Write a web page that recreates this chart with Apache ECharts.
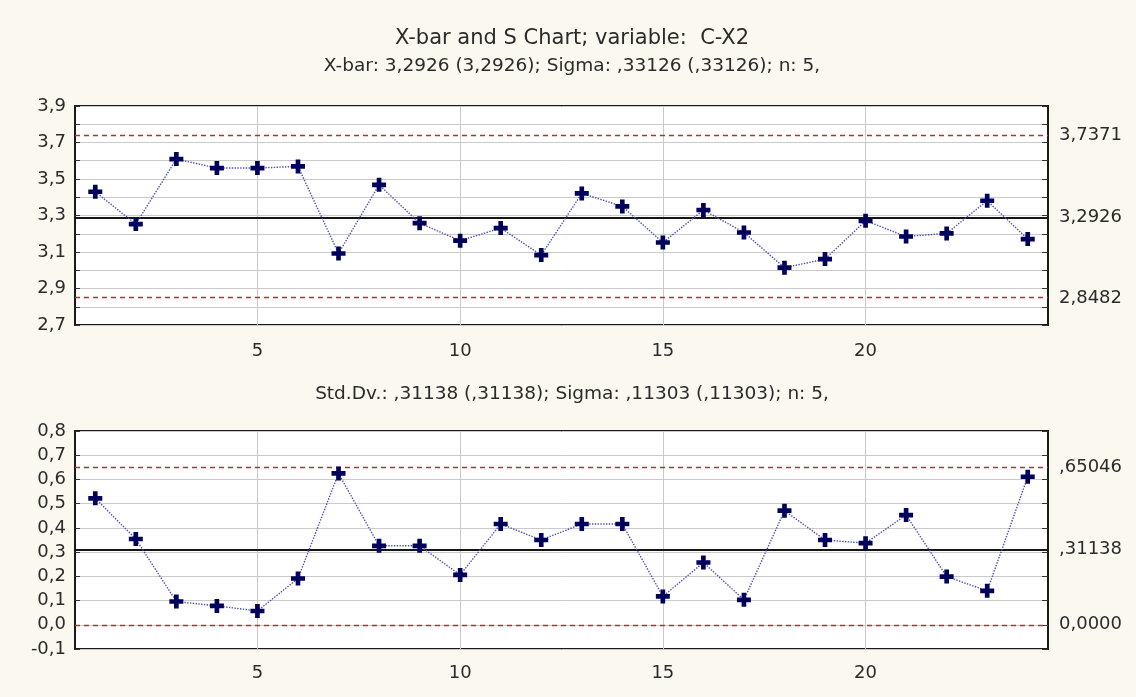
<!DOCTYPE html>
<html>
<head>
<meta charset="utf-8">
<title>X-bar and S Chart</title>
<script src="https://cdn.jsdelivr.net/npm/echarts@6/dist/echarts.min.js"></script>
<style>
  html, body { margin: 0; padding: 0; background: #fbf8ef; }
  #chart { width: 1136px; height: 697px; }
</style>
</head>
<body>
<div id="chart"></div>
<script>
// Sample numbers (subgroups of n = 5)
const sampleNo = [1, 2, 3, 4, 5, 6, 7, 8, 9, 10, 11, 12, 13, 14, 15, 16, 17, 18, 19, 20, 21, 22, 23, 24];

// Subgroup means
const xbarValues = [3.430, 3.253, 3.609, 3.560, 3.560, 3.569, 3.092, 3.468, 3.258, 3.162, 3.231, 3.083,
                    3.421, 3.350, 3.152, 3.330, 3.207, 3.014, 3.061, 3.271, 3.185, 3.202, 3.381, 3.171];

// Subgroup standard deviations
const sdValues = [0.522, 0.354, 0.096, 0.078, 0.057, 0.191, 0.625, 0.326, 0.326, 0.206, 0.416, 0.350,
                  0.416, 0.416, 0.117, 0.257, 0.103, 0.471, 0.350, 0.337, 0.453, 0.199, 0.140, 0.611];

// Control limits: [LCL, CL, UCL] and their printed labels
const xbarLimits = [2.8482, 3.2926, 3.7371];
const xbarLimitLabels = ['2,8482', '3,2926', '3,7371'];
const sdLimits = [0.0, 0.31138, 0.65046];
const sdLimitLabels = ['0,0000', ',31138', ',65046'];

// Axis tick labels
const xTickValues = [5, 10, 15, 20];
const xbarTickValues = [2.7, 2.9, 3.1, 3.3, 3.5, 3.7, 3.9];
const xbarTickLabels = ['2,7', '2,9', '3,1', '3,3', '3,5', '3,7', '3,9'];
const sdTickValues = [-0.1, 0.0, 0.1, 0.2, 0.3, 0.4, 0.5, 0.6, 0.7, 0.8];
const sdTickLabels = ['-0,1', '0,0', '0,1', '0,2', '0,3', '0,4', '0,5', '0,6', '0,7', '0,8'];

// Titles
const mainTitle = 'X-bar and S Chart; variable:  C-X2';
const xbarSubtitle = 'X-bar: 3,2926 (3,2926); Sigma: ,33126 (,33126); n: 5,';
const sdSubtitle = 'Std.Dv.: ,31138 (,31138); Sigma: ,11303 (,11303); n: 5,';

const FONT = 'DejaVu Sans';
const TEXT = '#2b2b2b';
const plusSymbol = 'path://M4,0H8V4H12V8H8V12H4V8H0V4H4Z';

function labelFor(values, labels) {
  return function (v) {
    for (let i = 0; i < values.length; i++) {
      if (Math.abs(values[i] - v) < 1e-6) return labels[i];
    }
    return '';
  };
}

function limitLines(limits) {
  const dash = { color: '#b03232', width: 1.3, type: [5, 4] };
  return {
    silent: true,
    symbol: 'none',
    label: { show: false },
    data: [
      { yAxis: limits[0], lineStyle: dash },
      { yAxis: limits[1], lineStyle: { color: '#151515', width: 2, type: 'solid' } },
      { yAxis: limits[2], lineStyle: dash }
    ]
  };
}

const grids = [
  { left: 75, right: 88, top: 106, height: 219 },
  { left: 75, right: 88, top: 431, height: 218 }
].map(g => Object.assign(g, {
  show: true, backgroundColor: '#ffffff', borderColor: '#1a1a1a', borderWidth: 2, containLabel: false
}));

function xAxis(gridIndex, margin) {
  return {
    type: 'value', gridIndex, min: 0.5, max: 24.5,
    axisLine: { show: false },
    axisTick: { show: false, customValues: xTickValues },
    axisLabel: { customValues: xTickValues, margin, color: TEXT, fontFamily: FONT, fontSize: 18 },
    splitLine: { show: true, lineStyle: { color: '#cacaca', width: 1 } }
  };
}

function leftAxis(gridIndex, min, max, tickVals, tickLabels) {
  return {
    type: 'value', gridIndex, position: 'left', min, max, interval: 0.1,
    axisLine: { show: false },
    axisTick: { show: true, inside: true, length: 5, lineStyle: { color: '#333' } },
    axisLabel: {
      customValues: tickVals, formatter: labelFor(tickVals, tickLabels),
      margin: 9, color: TEXT, fontFamily: FONT, fontSize: 18
    },
    splitLine: { show: true, lineStyle: { color: '#cacaca', width: 1 } }
  };
}

function rightAxis(gridIndex, min, max, limits, labels) {
  return {
    type: 'value', gridIndex, position: 'right', min, max, interval: 0.1,
    axisLine: { show: false },
    axisTick: { show: true, inside: true, length: 6, lineStyle: { color: '#333' } },
    axisLabel: {
      customValues: limits, formatter: labelFor(limits, labels),
      margin: 11, color: TEXT, fontFamily: FONT, fontSize: 18
    },
    splitLine: { show: false }
  };
}

function pointSeries(xAxisIndex, yAxisIndex, values, limits) {
  return {
    type: 'line', xAxisIndex, yAxisIndex,
    data: sampleNo.map((x, i) => [x, values[i]]),
    symbol: plusSymbol, symbolSize: 14,
    itemStyle: { color: '#00005c' },
    lineStyle: { color: '#4c4cb8', width: 1.4, type: 'dotted' },
    z: 5,
    markLine: limitLines(limits)
  };
}

const chart = echarts.init(document.getElementById('chart'), null, { renderer: 'canvas' });
chart.setOption({
  backgroundColor: '#fbf8ef',
  animation: false,
  title: [
    { text: mainTitle, left: 567, top: 23, textAlign: 'center',
      textStyle: { fontFamily: FONT, fontSize: 21, fontWeight: 'normal', color: TEXT } },
    { text: xbarSubtitle, left: 567, top: 52, textAlign: 'center',
      textStyle: { fontFamily: FONT, fontSize: 18.5, fontWeight: 'normal', color: TEXT } },
    { text: sdSubtitle, left: 567, top: 380, textAlign: 'center',
      textStyle: { fontFamily: FONT, fontSize: 18.5, fontWeight: 'normal', color: TEXT } }
  ],
  grid: grids,
  xAxis: [xAxis(0, 17), xAxis(1, 15)],
  yAxis: [
    leftAxis(0, 2.7, 3.9, xbarTickValues, xbarTickLabels),
    rightAxis(0, 2.7, 3.9, xbarLimits, xbarLimitLabels),
    leftAxis(1, -0.1, 0.8, sdTickValues, sdTickLabels),
    rightAxis(1, -0.1, 0.8, sdLimits, sdLimitLabels)
  ],
  series: [
    pointSeries(0, 0, xbarValues, xbarLimits),
    pointSeries(1, 2, sdValues, sdLimits)
  ]
});
</script>
</body>
</html>
